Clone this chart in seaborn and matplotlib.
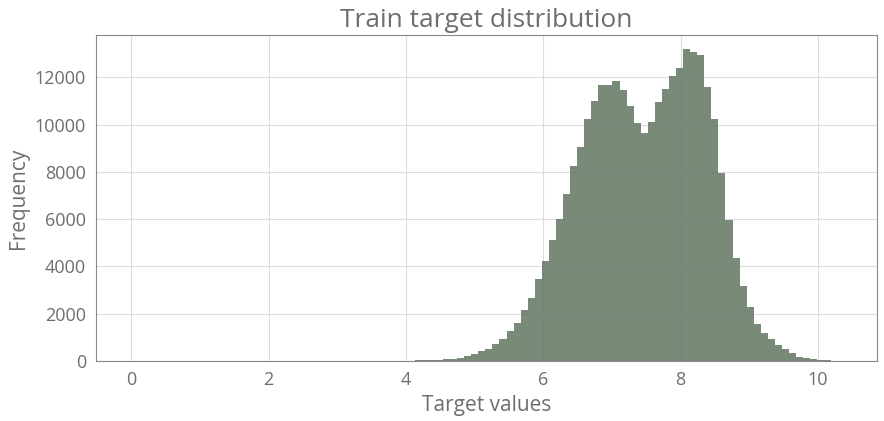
import numpy as np
import pandas as pd
import seaborn as sns
import matplotlib.pyplot as plt

# histogram of train targets: 100 bins between min and max
target_min = 0.013
target_max = 10.30
n_bins = 100

# bin counts (bins 0..39 are near zero)
low_counts = [5] * 40
counts_40_99 = [30, 30, 30, 40, 85, 85, 130, 210, 300, 420,
                510, 720, 930, 1270, 1610, 2160, 2670, 3480, 4240, 5130,
                6010, 7080, 8230, 9070, 10220, 11020, 11660, 11700, 11830, 11450,
                10810, 10050, 9630, 10100, 10940, 11530, 12080, 12380, 13190, 13060,
                12930, 11580, 10220, 7970, 5980, 4370, 3180, 2260, 1570, 1190,
                930, 680, 510, 340, 170, 130, 85, 40, 20, 10]
counts = low_counts + counts_40_99

edges = np.linspace(target_min, target_max, n_bins + 1)
centers = (edges[:-1] + edges[1:]) / 2
df = pd.DataFrame({'target': centers, 'count': counts})

sns.set_theme(style='whitegrid')
plt.rcParams['font.family'] = ['Open Sans', 'DejaVu Sans']
text_col = '#6e6e6e'

fig, ax = plt.subplots(figsize=(8.84, 4.21), dpi=100)
sns.histplot(data=df, x='target', weights='count', bins=n_bins,
             binrange=(target_min, target_max),
             color='#6b7d6b', alpha=0.9, edgecolor='none', linewidth=0, ax=ax)

ax.set_xlim(-0.51, 10.86)
ax.set_ylim(0, 13800)
ax.set_xticks([0, 2, 4, 6, 8, 10])
ax.set_yticks(range(0, 13000, 2000))
ax.set_title('Train target distribution', fontsize=19, color=text_col)
ax.set_xlabel('Target values', fontsize=15, color=text_col)
ax.set_ylabel('Frequency', fontsize=15, color=text_col)
ax.tick_params(axis='both', labelsize=13, colors=text_col, length=4, direction='out')
ax.tick_params(axis='both', color='#888888')
ax.grid(True, color='#dddddd', linewidth=0.8)
for s in ax.spines.values():
    s.set_color('#888888')
    s.set_linewidth(0.8)

fig.subplots_adjust(left=0.109, right=0.992, top=0.917, bottom=0.143)
fig.savefig('out.png', dpi=100)
